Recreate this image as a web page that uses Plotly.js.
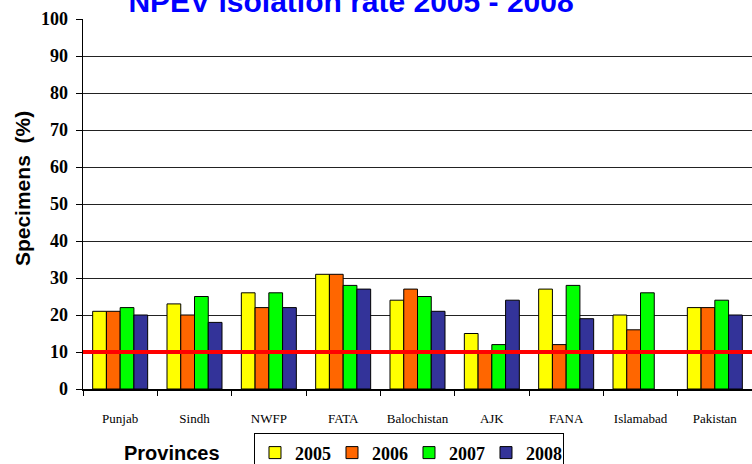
<!DOCTYPE html>
<html>
<head>
<meta charset="utf-8">
<script src="https://cdn.plot.ly/plotly-3.0.1.min.js"></script>
<style>html,body{margin:0;padding:0;background:#fff;}#chart{width:752px;height:464px;}</style>
</head>
<body>
<div id="chart"></div>
<script>
const provinces = ["Punjab", "Sindh", "NWFP", "FATA", "Balochistan", "AJK", "FANA", "Islamabad", "Pakistan"];
const years = ["2005", "2006", "2007", "2008"];
const rate2005 = [21, 23, 26, 31, 24, 15, 27, 20, 22];
const rate2006 = [21, 20, 22, 31, 27, 10, 12, 16, 22];
const rate2007 = [22, 25, 26, 28, 25, 12, 28, 26, 24];
const rate2008 = [20, 18, 22, 27, 21, 24, 19, null, 20];
const target = [10];
const colors = ["#FFFF00", "#FF6600", "#00FF00", "#333399"];
const seriesValues = [rate2005, rate2006, rate2007, rate2008];

const traces = years.map((y, i) => ({
  type: "bar",
  name: y,
  x: provinces,
  y: seriesValues[i],
  marker: {color: colors[i], line: {color: "#000", width: 1}},
  hoverinfo: "x+y+name"
}));

const layout = {
  width: 752, height: 464,
  margin: {l: 83, r: 0, t: 19, b: 75, autoexpand: false},
  paper_bgcolor: "#fff", plot_bgcolor: "#fff",
  barmode: "group", bargap: 0.26, bargroupgap: 0,
  showlegend: true,
  title: {
    text: "NPEV isolation rate 2005 - 2008",
    font: {family: "Liberation Sans, Arial, sans-serif", size: 30, color: "#0000FF", weight: "bold"},
    xref: "container", yref: "container", x: 0.4668, y: 0.974, xanchor: "center", yanchor: "bottom"
  },
  xaxis: {
    type: "category", automargin: false,
    showline: true, linecolor: "#000", linewidth: 1.5,
    ticks: "outside", tickson: "boundaries", ticklen: 5, tickcolor: "#000", tickwidth: 1,
    ticklabelstandoff: 17,
    tickfont: {family: "Liberation Serif, Times New Roman, serif", size: 13, color: "#000"},
    showgrid: false, zeroline: false, fixedrange: true
  },
  yaxis: {
    range: [0, 100], dtick: 10, tick0: 0, automargin: false,
    showline: true, linecolor: "#000", linewidth: 1.5,
    ticks: "outside", ticklen: 6, tickcolor: "#000", tickwidth: 1,
    ticklabelstandoff: 4,
    tickfont: {family: "Liberation Serif, Times New Roman, serif", size: 18, color: "#000", weight: "bold"},
    showgrid: true, gridcolor: "#222", gridwidth: 1, zeroline: false, fixedrange: true
  },
  legend: {
    orientation: "h", x: 0.2556, xanchor: "left", y: -0.12, yanchor: "top",
    bordercolor: "#000", borderwidth: 1, bgcolor: "#fff",
    font: {family: "Liberation Serif, Times New Roman, serif", size: 18, color: "#000", weight: "bold"},
    itemwidth: 30, entrywidth: 32, traceorder: "normal"
  },
  shapes: [{
    type: "line", xref: "paper", x0: 0, x1: 1, yref: "y", y0: target[0], y1: target[0],
    line: {color: "#FF0000", width: 4}, layer: "above"
  }],
  annotations: [
    {text: "Provinces", xref: "paper", yref: "paper", x: 0.133, y: -0.173, xanchor: "center", yanchor: "middle",
     showarrow: false, font: {family: "Liberation Sans, Arial, sans-serif", size: 20, color: "#000", weight: "bold"}},
    {text: "Specimens\u00a0 (%)", xref: "paper", yref: "paper", x: -0.0912, y: 0.543, xanchor: "center", yanchor: "middle",
     textangle: -90, showarrow: false, font: {family: "Liberation Sans, Arial, sans-serif", size: 21, color: "#000", weight: "bold"}}
  ]
};

Plotly.newPlot("chart", traces, layout, {displayModeBar: false, staticPlot: true});
</script>
</body>
</html>
